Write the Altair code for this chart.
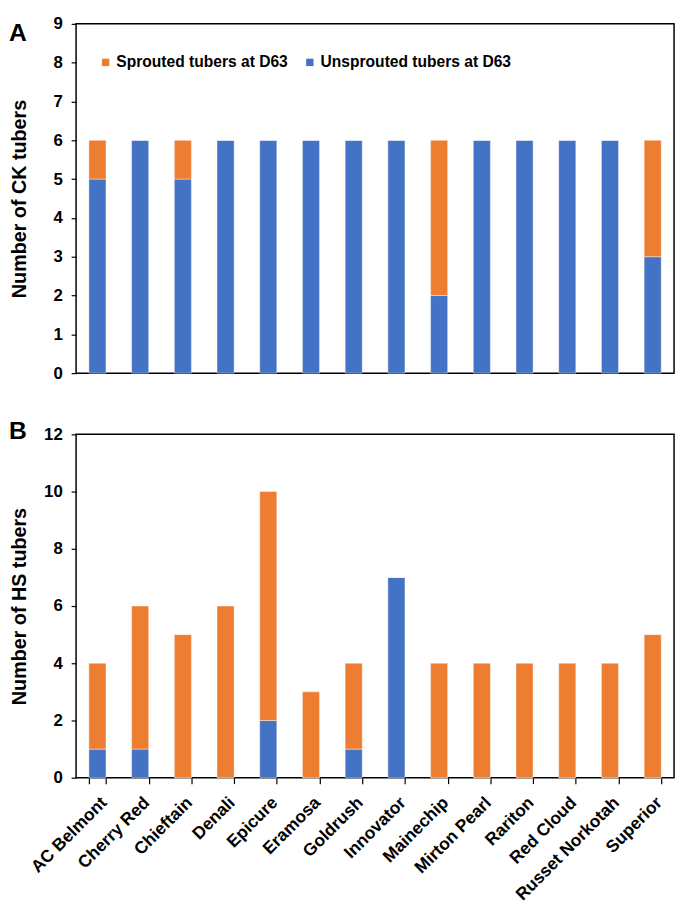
import altair as alt
import pandas as pd

varieties = ["AC Belmont", "Cherry Red", "Chieftain", "Denali", "Epicure", "Eramosa",
             "Goldrush", "Innovator", "Mainechip", "Mirton Pearl", "Rariton", "Red Cloud",
             "Russet Norkotah", "Superior"]

ck_unsprouted = [5, 6, 5, 6, 6, 6, 6, 6, 2, 6, 6, 6, 6, 3]
ck_sprouted = [1, 0, 1, 0, 0, 0, 0, 0, 4, 0, 0, 0, 0, 3]

hs_unsprouted = [1, 1, 0, 0, 2, 0, 1, 7, 0, 0, 0, 0, 0, 0]
hs_sprouted = [3, 5, 5, 6, 8, 3, 3, 0, 4, 4, 4, 4, 4, 5]

SPR = "Sprouted tubers at D63"
UNS = "Unsprouted tubers at D63"
ORANGE = "#ED7D31"
BLUE = "#4472C4"
FONT = "Liberation Sans"


def long(uns, spr):
    rows = []
    for v, u, s in zip(varieties, uns, spr):
        rows.append({"variety": v, "status": UNS, "count": u, "ord": 0})
        rows.append({"variety": v, "status": SPR, "count": s, "ord": 1})
    return pd.DataFrame(rows)


def panel(df, ymax, ystep, ytitle, letter, show_x, h, legend_font, legend_x, legend_y, colpad, letter_y):
    xaxis = alt.Axis(
        title=None, labelAngle=-45, labelAlign="right", labelBaseline="top",
        labelFont=FONT, labelFontSize=17.5, labelFontWeight="bold", labelColor="black",
        tickBand="extent", tickColor="black", tickSize=6, tickWidth=1.2, domain=False,
        labelPadding=10, labels=show_x, ticks=show_x, labelLimit=0,
    )
    bars = alt.Chart(df).mark_bar(stroke="white", strokeWidth=0.6, strokeOpacity=0.7).encode(
        x=alt.X("variety:N", sort=varieties, axis=xaxis,
                scale=alt.Scale(paddingInner=0.6, paddingOuter=0.3)),
        y=alt.Y("count:Q", stack="zero",
                scale=alt.Scale(domain=[0, ymax], nice=False),
                axis=alt.Axis(title=ytitle, values=list(range(0, ymax + 1, ystep)),
                              grid=False, domain=False, tickColor="black", tickSize=5,
                              tickWidth=1.2,
                              labelFont=FONT, labelFontSize=17, labelFontWeight="bold",
                              labelColor="black", labelPadding=9,
                              titleFont=FONT, titleFontSize=20, titleFontWeight="bold",
                              titleColor="black", titleX=-57, titleY=h / 2,
                              titleBaseline="middle", titleAlign="center", titleAngle=-90)),
        color=alt.Color("status:N",
                        scale=alt.Scale(domain=[SPR, UNS], range=[ORANGE, BLUE]),
                        legend=alt.Legend(title=None, orient="none", direction="horizontal",
                                          legendX=legend_x, legendY=legend_y,
                                          symbolType="square", symbolSize=56,
                                          symbolStrokeWidth=0, labelFont=FONT,
                                          labelFontSize=legend_font, labelFontWeight="bold",
                                          labelColor="black", columnPadding=colpad,
                                          labelOffset=3, labelLimit=0)),
        order=alt.Order("ord:Q"),
    )
    lab = alt.Chart(pd.DataFrame({"t": [letter]})).mark_text(
        font=FONT, fontSize=25, fontWeight="bold", color="black", align="left",
        baseline="middle"
    ).encode(text="t:N", x=alt.value(-68), y=alt.value(letter_y))
    return alt.layer(bars, lab).properties(width=606, height=h)


a = panel(long(ck_unsprouted, ck_sprouted), 9, 1, "Number of CK tubers", "A", False,
          354, 15.8, 22, 31, 14, 9)
b = panel(long(hs_unsprouted, hs_sprouted), 12, 2, "Number of HS tubers", "B", True,
          348, 14.8, 20, 23, 25, -3)

chart = alt.vconcat(a, b, spacing=37).configure_view(
    stroke="black", strokeWidth=1.5
).properties(padding={"left": 0, "top": 0, "right": 2, "bottom": 0})

chart.save("out.html", embed_options={"renderer": "svg", "actions": False})
